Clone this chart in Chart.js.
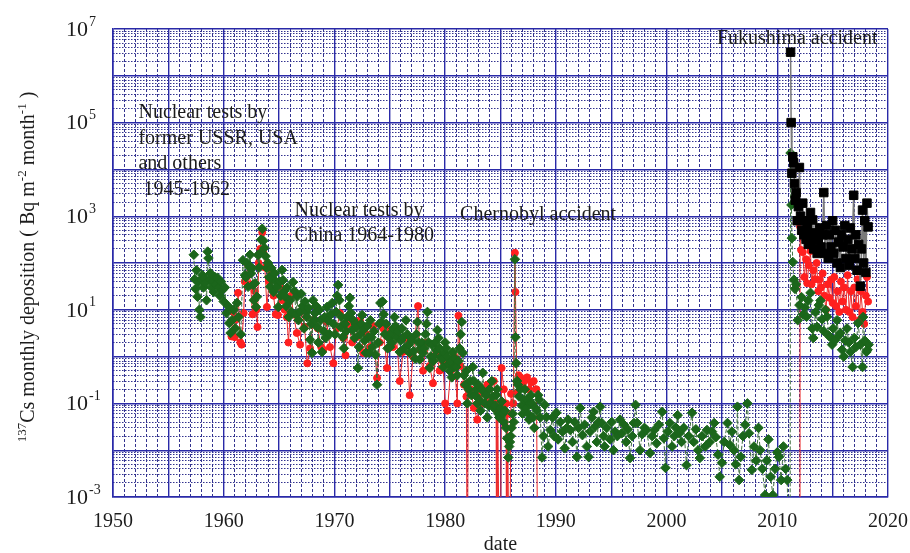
<!DOCTYPE html>
<html>
<head>
<meta charset="utf-8">
<script src="https://cdn.jsdelivr.net/npm/chart.js@4.4.1/dist/chart.umd.min.js"></script>
<style>
  html, body { margin: 0; padding: 0; background: #fff; }
  #wrap { width: 910px; height: 553px; }
</style>
</head>
<body>
<div id="wrap"><canvas id="chart" width="910" height="553"></canvas></div>
<script>
// values: monthly 137Cs deposition (Bq m-2 month-1)
// 1e-6 marks months that fall below the plotted range (lines drop to the axis)

// green diamonds
const greenYears = [
  1957.30,1957.38,1957.46,1957.55,1957.63,1957.72,1957.80,1957.90,
  1958.00,1958.08,1958.17,1958.25,1958.35,1958.45,1958.55,1958.62,1958.72,1958.80,1958.90,
  1959.00,1959.10,1959.20,1959.30,1959.45,1959.55,1959.65,1959.75,1959.85,
  1960.00,1960.10,1960.25,1960.40,1960.50,1960.62,1960.75,1960.90,
  1961.05,1961.20,1961.35,1961.55,1961.74,1961.92,
  1962.00,1962.10,1962.20,1962.30,1962.38,1962.48,1962.56,1962.65,1962.72,1962.83,1962.92,
  1963.00,1963.10,1963.20,1963.28,1963.38,1963.48,1963.58,1963.68,1963.78,1963.90,
  1964.00,1964.10,1964.20,1964.30,1964.40,1964.50,1964.60,1964.72,1964.82,1964.92,
  1965.05,1965.15,1965.27,1965.36,1965.45,1965.54,1965.65,1965.75,1965.88,
  1966.00,1966.12,1966.26,1966.40,1966.52,1966.62,1966.75,1966.89,
  1967.00,1967.12,1967.25,1967.34,1967.45,1967.52,1967.65,1967.80,1967.90,1967.98,
  1968.07,1968.17,1968.25,1968.35,1968.43,1968.55,1968.65,1968.75,1968.88,
  1969.00,1969.12,1969.22,1969.33,1969.42,1969.55,1969.68,1969.80,1969.92,
  1970.05,1970.15,1970.25,1970.33,1970.45,1970.55,1970.65,1970.75,1970.85,1970.95,
  1971.05,1971.15,1971.30,1971.40,1971.50,1971.60,1971.70,1971.82,1971.92,
  1972.02,1972.12,1972.22,1972.32,1972.42,1972.50,1972.62,1972.72,1972.85,1972.95,
  1973.05,1973.15,1973.25,1973.35,1973.45,1973.58,1973.70,1973.85,1973.95,
  1974.05,1974.15,1974.25,1974.35,1974.45,1974.55,1974.68,1974.80,1974.92,
  1975.02,1975.12,1975.22,1975.32,1975.42,1975.52,1975.62,1975.75,1975.90,
  1976.00,1976.10,1976.20,1976.32,1976.45,1976.58,1976.70,1976.80,1976.92,
  1977.02,1977.15,1977.30,1977.40,1977.50,1977.60,1977.70,1977.80,1977.90,
  1978.00,1978.10,1978.22,1978.32,1978.40,1978.50,1978.60,1978.70,1978.80,1978.92,
  1979.00,1979.12,1979.22,1979.30,1979.40,1979.50,1979.60,1979.70,1979.82,1979.92,
  1980.00,1980.10,1980.20,1980.30,1980.40,1980.52,1980.60,1980.70,1980.82,1980.92,
  1981.00,1981.10,1981.20,1981.30,1981.40,1981.50,1981.60,1981.70,1981.82,1981.92,
  1982.00,1982.12,1982.25,1982.38,1982.50,1982.60,1982.70,1982.82,1982.92,
  1983.00,1983.10,1983.20,1983.30,1983.40,1983.50,1983.60,1983.70,1983.80,1983.92,
  1984.00,1984.12,1984.22,1984.30,1984.40,1984.50,1984.62,1984.70,1984.80,1984.90,
  1985.00,1985.10,1985.20,1985.30,1985.40,1985.50,1985.60,1985.70,1985.78,1985.85,1985.92,
  1986.00,1986.10,1986.20,1986.30,1986.35,1986.42,1986.50,1986.58,1986.68,1986.80,1986.92,
  1987.00,1987.10,1987.20,1987.30,1987.40,1987.50,1987.58,1987.68,1987.75,1987.85,1987.95,
  1988.05,1988.15,1988.30,1988.40,1988.50,1988.60,1988.75,1988.88,
  1989.00,1989.15,1989.30,1989.50,1989.70,1989.85,
  1990.05,1990.20,1990.40,1990.60,1990.80,
  1991.00,1991.10,1991.30,1991.50,1991.70,1991.90,
  1992.05,1992.20,1992.40,1992.60,1992.80,1992.95,
  1993.10,1993.25,1993.40,1993.55,1993.70,1993.85,
  1994.00,1994.15,1994.30,1994.40,1994.60,1994.90,
  1995.05,1995.20,1995.35,1995.55,1995.80,1995.95,
  1996.15,1996.35,1996.50,1996.70,1996.90,
  1997.05,1997.20,1997.35,1997.60,1997.80,
  1998.00,1998.20,1998.50,1998.70,1998.90,
  1999.10,1999.30,1999.60,1999.75,1999.90,
  2000.10,2000.30,2000.50,2000.70,2000.85,
  2001.00,2001.15,2001.35,2001.55,2001.80,
  2002.00,2002.30,2002.45,2002.65,2002.85,
  2003.00,2003.20,2003.50,2003.65,2003.90,
  2004.10,2004.30,2004.45,2004.65,2004.80,
  2005.00,2005.20,2005.50,2005.70,2005.90,
  2006.10,2006.25,2006.40,2006.55,2006.70,2006.90,
  2007.10,2007.30,2007.45,2007.70,2007.90,
  2008.10,2008.30,2008.45,2008.65,2008.90,
  2009.05,2009.20,2009.40,2009.60,2009.80,
  2010.00,2010.15,2010.35,2010.55,2010.75,2010.90,
  2011.15,2011.20,2011.28,2011.32,2011.40,2011.50,2011.60,2011.70,2011.85,
  2012.00,2012.20,2012.35,2012.50,2012.65,2012.80,
  2013.00,2013.15,2013.25,2013.45,2013.60,2013.75,2013.90,
  2014.05,2014.20,2014.35,2014.50,2014.65,2014.80,2014.95,
  2015.05,2015.20,2015.40,2015.55,2015.70,2015.85,
  2016.00,2016.15,2016.30,2016.45,2016.60,2016.80,2016.95,
  2017.10,2017.30,2017.50,2017.70,2017.75,2017.90,
  2018.05,2018.15,2018.25
];
const greenValues = [
  150,45,28,70,19,40,10,7,
  44,55,30,48,37,16,175,127,44,60,30,
  40,24,50,35,48,30,20,40,26,
  15,30,8.5,12,5.2,3.2,6,10,
  4,14,7,3,115,55,
  50,100,31,82,150,60,78,34,16,37,11.5,
  19,148,80,160,316,540,300,210,140,78,
  100,50,31,78,45,24,60,40,31,11.5,
  40,20,71,43,25,19,12,30,7,
  16,9,39,25,8,19,6,9,
  22,12,4,15,9,7,11,2.3,5,1.2,
  16,6,8.5,12,4.3,2,10,6,1.25,
  3.5,7,2.5,11.5,6,3,8,14,5,
  3,9,20,34,16,4.3,7,2.6,1.5,5,
  3.5,7,12,18,8.5,3.7,6,2.5,5,
  4.3,0.57,1.6,3,5,7.7,3.7,2.2,1.2,4.5,
  2.6,1.2,6,2.6,1.6,3.5,1.1,0.25,2,
  5,14,5.5,15,8,3,5,1.5,2.5,
  1.6,3.2,2,4,7,4.5,2.6,3.5,1.25,
  2.2,4,2.6,1.5,6,3,1.8,1.2,2.5,
  2.2,1.3,0.9,3,5.5,2,0.87,1.5,2,
  1.2,1.5,3,5,9,2,0.57,1,1.8,0.8,
  1,2,1.4,3.7,2.5,1.5,1,0.87,0.6,1.2,
  2,1.5,1,0.7,0.5,0.8,0.36,1.25,0.6,0.9,
  0.6,0.4,0.8,1.5,3,5.5,1.2,0.4,0.25,0.5,
  0.1,0.2,0.3,0.15,0.6,0.3,0.15,0.2,0.1,
  0.25,0.12,0.07,0.2,0.45,0.18,0.1,0.15,0.05,0.09,
  0.2,0.1,0.3,0.14,0.08,0.09,0.15,0.2,0.06,0.05,
  0.08,0.11,0.06,0.04,0.07,0.03,0.018,0.007,0.012,0.015,0.02,
  0.03,0.06,0.04,120,2.6,0.72,0.3,0.25,0.14,0.2,0.09,
  0.06,0.12,0.2,0.08,0.12,0.06,0.045,0.1,0.15,0.1,0.05,
  0.03,0.08,0.07,0.15,0.12,0.05,0.007,0.02,
  0.093,0.051,0.012,0.027,0.05,0.02,
  0.063,0.017,0.04,0.025,0.011,
  0.03,0.045,0.027,0.015,0.04,0.0072,
  0.03,0.08,0.021,0.035,0.012,0.0072,
  0.025,0.05,0.066,0.032,0.015,0.04,
  0.085,0.038,0.02,0.012,0.03,0.017,
  0.04,0.01,0.025,0.02,0.045,0.023,
  0.035,0.015,0.028,0.0068,0.02,
  0.038,0.093,0.038,0.01,0.022,
  0.03,0.027,0.0087,0.02,0.027,
  0.014,0.035,0.066,0.018,0.0042,
  0.025,0.038,0.012,0.02,0.03,
  0.056,0.023,0.015,0.03,0.0048,
  0.02,0.063,0.015,0.028,0.01,
  0.0068,0.02,0.012,0.027,0.015,
  0.025,0.038,0.019,0.008,0.0027,
  0.0054,0.015,0.038,0.013,0.025,
  0.01,0.005,0.085,0.0023,0.0072,0.02,
  0.035,0.1,0.023,0.0038,0.012,
  0.006,0.03,0.01,0.004,0.0011,
  0.006,0.017,0.0027,0.0011,0.004,
  0.009,0.0072,0.0023,0.012,0.004,0.0023,
  1e-6,22400,1740,340,105,44,28,35,6,
  12.6,18.6,7.9,11.2,7.1,15.8,
  23,4,2.5,8.9,4.3,12.6,15.8,
  6.3,3.5,10,7.1,2.8,2.6,1.8,
  4,2.2,6,2.8,3.2,1.4,
  1,2.2,4,2,1.26,0.6,2.5,
  1.6,5.2,1.8,0.6,7,2.2,
  1.26,1.4,1.8
];

// red circles
const redYears = [
  1960.70,1960.85,1961.00,1961.15,1961.30,1961.50,1961.62,1961.80,1961.90,
  1962.05,1962.20,1962.32,1962.42,1962.60,1962.80,1962.95,
  1963.05,1963.15,1963.30,1963.48,1963.60,1963.72,1963.90,
  1964.10,1964.30,1964.50,1964.70,1964.90,
  1965.10,1965.30,1965.50,1965.70,1965.85,
  1966.10,1966.30,1966.60,1966.90,
  1967.10,1967.30,1967.55,1967.80,
  1968.10,1968.30,1968.50,1968.80,
  1969.00,1969.30,1969.60,1969.90,
  1970.20,1970.50,1970.80,1971.00,
  1971.30,1971.60,1972.00,1972.30,1972.60,1972.90,
  1973.20,1973.50,1973.85,1974.10,1974.40,1974.75,1974.90,
  1975.30,1975.60,1975.90,1976.20,1976.50,1976.80,
  1977.10,1977.55,1977.70,1978.00,1978.30,1978.60,1978.90,
  1979.20,1979.50,1979.80,1980.00,1980.20,1980.50,1980.80,
  1981.10,1981.20,1981.40,1981.70,1981.92,1982.00,1982.08,
  1982.30,1982.60,1982.90,1983.20,1983.50,1983.80,
  1984.10,1984.40,1984.60,1984.66,1984.75,1984.95,1985.10,1985.30,1985.50,1985.56,1985.65,1985.80,1985.95,1986.15,
  1986.30,1986.35,1986.50,1986.65,1986.80,1987.00,1987.15,1987.40,1987.60,1987.80,1988.00,1988.25,1988.40,
  2012.05,2012.06,2012.15,2012.30,2012.45,2012.60,2012.70,2012.85,
  2013.00,2013.10,2013.25,2013.40,2013.55,2013.70,2013.80,2013.95,
  2014.10,2014.25,2014.40,2014.55,2014.70,2014.85,
  2015.00,2015.15,2015.30,2015.45,2015.60,2015.75,2015.90,
  2016.05,2016.20,2016.35,2016.50,2016.65,2016.80,2016.95,
  2017.10,2017.25,2017.40,2017.55,2017.70,2017.85,
  2018.00,2018.10,2018.20
];
const redValues = [
  2.7,9,2.6,6.3,23,2.0,1.8,8.5,40,
  50,90,60,35,8,25,10,
  4.3,100,200,450,160,80,11.5,
  40,60,20,8,7.7,
  30,16,10,7,2.0,
  20,8,3.2,1.8,
  10,4.3,0.72,1.5,
  6,12,4,1.6,
  1.4,5.5,1.6,0.72,
  4,8.5,2.5,1.07,
  5,2,2.6,6,1.2,3,
  1.6,4.5,0.35,2,4,0.57,3.7,
  1.6,2.8,0.3,1.26,2.5,0.15,
  1,12,1.4,0.5,2,0.63,0.27,
  1.26,0.5,0.8,0.1,0.07,0.5,1,
  0.1,7.5,0.63,0.25,0.14,1e-6,0.2,
  0.2,0.08,0.045,0.16,0.1,0.25,
  0.12,0.3,0.1,1e-6,0.07,1e-6,0.57,0.2,0.1,1e-6,0.06,1e-6,0.16,0.1,
  165,24,0.17,0.4,0.36,0.25,0.3,0.36,0.2,0.28,0.3,0.2,1e-6,
  1e-6,600,190,170,50,120,37,90,
  180,35,70,45,100,25,44,30,
  60,20,10,35,18,44,
  14,50,12,25,9,40,15,
  30,10,55,9,25,7,30,
  12,45,6,25,9,5,
  20,50,15
];

// black squares (Fukushima period)
const blackYears = [
  2011.20,2011.25,2011.32,2011.40,2011.48,2011.55,2011.62,2011.70,2011.80,2011.90,
  2012.00,2012.10,2012.20,2012.30,2012.40,2012.50,2012.60,2012.70,2012.80,2012.90,
  2013.00,2013.10,2013.20,2013.30,2013.45,2013.60,2013.70,2013.80,2013.95,
  2014.10,2014.20,2014.30,2014.45,2014.60,2014.70,2014.85,
  2015.00,2015.10,2015.25,2015.40,2015.55,2015.70,2015.80,2015.95,
  2016.10,2016.20,2016.35,2016.50,2016.60,2016.75,2016.90,
  2017.00,2017.10,2017.20,2017.35,2017.50,2017.60,2017.70,2017.80,2017.90,
  2018.00,2018.10,2018.20
];
const blackValues = [
  3.2e6,1e5,8300,18600,13800,5000,2200,3200,800,1600,
  11000,1000,500,1900,400,800,320,590,250,400,
  1200,280,830,200,440,160,320,560,220,
  400,3200,160,630,125,400,220,
  800,160,500,100,280,80,400,220,
  630,125,320,90,560,200,2800,
  125,400,70,250,32,200,1350,100,800,
  63,1900,590
];

// axes
const xMajorTicks = [1950,1955,1960,1965,1970,1975,1980,1985,1990,1995,2000,2005,2010,2015,2020];
const xLabelEvery = 10;
const yDecades = [1e-3,1e-2,1e-1,1,10,100,1e3,1e4,1e5,1e6,1e7];
const yLabelExponents = [-3,-1,1,3,5,7];

// annotations, anchored in data coordinates
const notes = [
  { year: 1952.3, value: 1.25e5, step: 25.5, lines: ['Nuclear tests by', 'former USSR, USA', 'and others', ' 1945-1962'] },
  { year: 1966.4, value: 1000, step: 25, lines: ['Nuclear tests by', 'China 1964-1980'] },
  { year: 1981.35, value: 830, step: 25, lines: ['Chernobyl accident'] },
  { year: 2004.55, value: 4.8e6, step: 25, lines: ['Fukushima accident'] }
];

const serif = "'Liberation Serif', 'Times New Roman', serif";
const ink = '#1c1c1c';
const gridMajor = '#2a2aa8';
const gridMinor = '#33338f';

// minor grid positions
const xMinorTicks = [];
for (let y = 1950; y <= 2020; y++) if (y % 5 !== 0) xMinorTicks.push(y);
const yMinorTicks = [];
yDecades.slice(0, -1).forEach(d => {
  for (let m = 2; m <= 9; m++) yMinorTicks.push(m * d);
});

function points(xs, ys) {
  return xs.map((x, i) => ({ x: x, y: ys[i] }));
}

// y tick labels with superscripts, axis title, annotations
const textPlugin = {
  id: 'textPlugin',
  afterDraw(chart) {
    const ctx = chart.ctx;
    const xs = chart.scales.x, ys = chart.scales.y;
    ctx.save();
    ctx.fillStyle = ink;
    ctx.textAlign = 'left';

    // 10^n labels
    ctx.textBaseline = 'middle';
    yLabelExponents.forEach(e => {
      const py = ys.getPixelForValue(Math.pow(10, e));
      ctx.font = '22px ' + serif;
      ctx.fillText('10', 66, py + 1);
      const w = ctx.measureText('10').width;
      ctx.font = '14px ' + serif;
      ctx.fillText(String(e), 66 + w + 1, py - 7);
    });

    // rotated y title
    const parts = [
      { t: '137', sup: true },
      { t: 'Cs monthly deposition ( Bq m' },
      { t: '-2', sup: true },
      { t: ' month' },
      { t: '-1', sup: true },
      { t: ' )' }
    ];
    ctx.textBaseline = 'alphabetic';
    let total = 0;
    parts.forEach(p => {
      ctx.font = (p.sup ? '13px ' : '20px ') + serif;
      p.w = ctx.measureText(p.t).width;
      total += p.w;
    });
    ctx.save();
    ctx.translate(34, (chart.chartArea.top + chart.chartArea.bottom) / 2 + 4);
    ctx.rotate(-Math.PI / 2);
    let cx = -total / 2;
    parts.forEach(p => {
      ctx.font = (p.sup ? '13px ' : '20px ') + serif;
      ctx.fillText(p.t, cx, p.sup ? -8 : 0);
      cx += p.w;
    });
    ctx.restore();

    // notes
    ctx.font = '20px ' + serif;
    notes.forEach(n => {
      const px = xs.getPixelForValue(n.year);
      const py = ys.getPixelForValue(n.value);
      n.lines.forEach((line, i) => ctx.fillText(line, px, py + i * n.step));
    });
    ctx.restore();
  }
};

const noFit = { paddingLeft: 0, paddingRight: 0, paddingTop: 0, paddingBottom: 0 };

new Chart(document.getElementById('chart'), {
  type: 'line',
  data: {
    datasets: [
      {
        label: 'black',
        data: points(blackYears, blackValues),
        xAxisID: 'x', yAxisID: 'y',
        borderColor: '#7a7a7a', borderWidth: 1.5,
        pointStyle: 'rect', pointRadius: 6,
        pointBackgroundColor: '#000', pointBorderColor: '#000', pointBorderWidth: 1
      },
      {
        label: 'green',
        data: points(greenYears, greenValues),
        xAxisID: 'x', yAxisID: 'y',
        borderColor: '#3f6f3f', borderWidth: 1, borderDash: [4, 2],
        pointStyle: 'rectRot', pointRadius: 4.8,
        pointBackgroundColor: '#1b661b', pointBorderColor: '#1b661b', pointBorderWidth: 1
      },
      {
        label: 'red',
        data: points(redYears, redValues),
        xAxisID: 'x', yAxisID: 'y',
        borderColor: '#ec2a2a', borderWidth: 1,
        pointStyle: 'circle', pointRadius: 3.5,
        pointBackgroundColor: '#ff1f1f', pointBorderColor: '#ff1f1f', pointBorderWidth: 1
      }
    ]
  },
  options: {
    responsive: false,
    animation: false,
    devicePixelRatio: 1,
    layout: { padding: { left: 0, right: 22, top: 29, bottom: 0 } },
    plugins: { legend: { display: false }, tooltip: { enabled: false } },
    scales: {
      x: {
        type: 'linear', position: 'bottom', min: 1950, max: 2020,
        afterBuildTicks: s => { s.ticks = xMajorTicks.map(v => ({ value: v })); },
        afterFit: s => { Object.assign(s, noFit); s.height = 56; },
        ticks: {
          autoSkip: false, maxRotation: 0, padding: 13,
          color: ink, font: { family: serif, size: 20 },
          callback: v => (v % xLabelEvery === 0 ? String(v) : '')
        },
        grid: { color: gridMajor, lineWidth: 1.4, drawTicks: false },
        border: { color: gridMajor, width: 1.6 },
        title: {
          display: true, text: 'date', color: ink,
          font: { family: serif, size: 20, lineHeight: 0.85 },
          padding: { top: 0, bottom: 0 }
        }
      },
      xMinor: {
        type: 'linear', position: 'bottom', min: 1950, max: 2020,
        afterBuildTicks: s => { s.ticks = xMinorTicks.map(v => ({ value: v })); },
        afterFit: s => { Object.assign(s, noFit); s.height = 0; },
        ticks: { display: false },
        grid: { color: gridMinor, lineWidth: 1, drawTicks: false },
        border: { display: false, dash: [3, 2] }
      },
      y: {
        type: 'logarithmic', position: 'left', min: 1e-3, max: 1e7,
        afterBuildTicks: s => { s.ticks = yDecades.map(v => ({ value: v })); },
        afterFit: s => { Object.assign(s, noFit); s.width = 113; },
        ticks: { display: false },
        grid: { color: gridMajor, lineWidth: 1.4, drawTicks: false },
        border: { color: gridMajor, width: 1.6 }
      },
      yMinor: {
        type: 'logarithmic', position: 'left', min: 1e-3, max: 1e7,
        afterBuildTicks: s => { s.ticks = yMinorTicks.map(v => ({ value: v })); },
        afterFit: s => { Object.assign(s, noFit); s.width = 0; },
        ticks: { display: false },
        grid: { color: gridMinor, lineWidth: 1, drawTicks: false },
        border: { display: false, dash: [1.5, 1.5] }
      }
    }
  },
  plugins: [textPlugin]
});
</script>
</body>
</html>
